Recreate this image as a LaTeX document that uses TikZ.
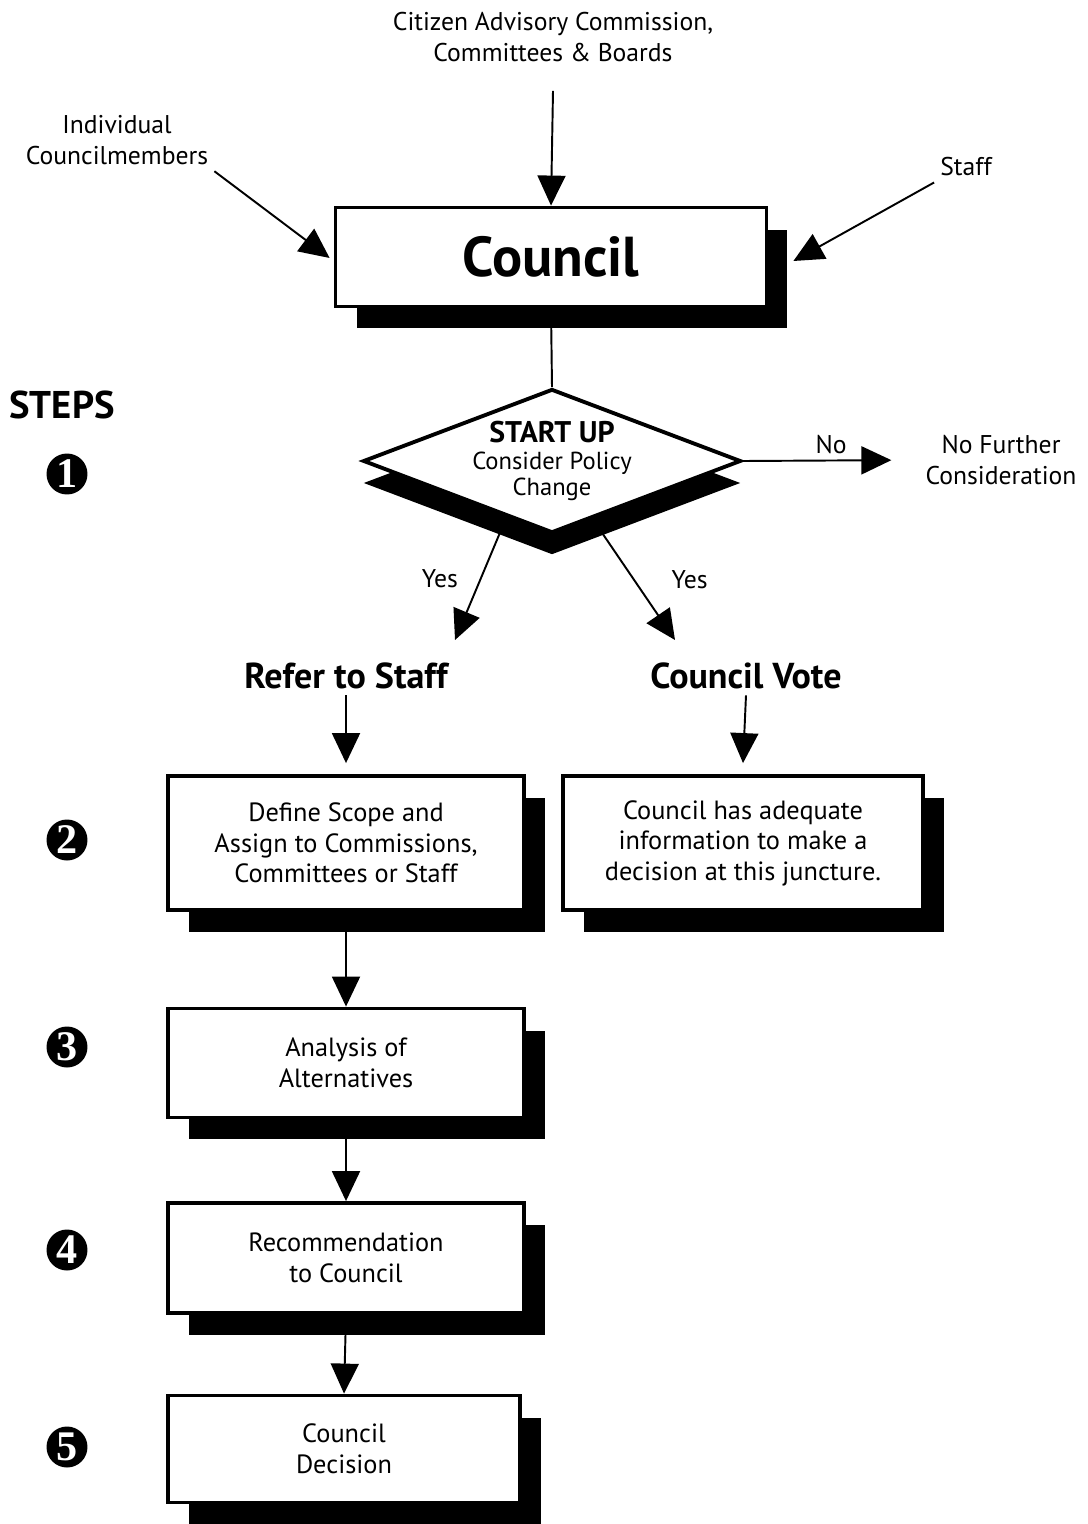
\documentclass[tikz,border=0pt]{standalone}
\usepackage{fontspec}
\setmainfont{PT Sans}
\newfontfamily\numfont{Liberation Serif}
\usetikzlibrary{arrows.meta,shapes.geometric,shadows}

\tikzset{
  arr/.style={line width=1.1pt,-{Triangle[length=0.6cm,width=0.56cm]}},
  shadebox/.style={draw,line width=2.2pt,fill=white,
    drop shadow={shadow xshift=0.42cm,shadow yshift=-0.44cm,fill=black,opacity=1}},
  stepbox/.style={shadebox,minimum width=7.12cm,align=center,font=\fontsize{15}{17.4}\selectfont},
  stepnum/.style={circle,fill=black,text=white,minimum size=0.82cm,inner sep=0pt,
    font=\numfont\bfseries\fontsize{24}{24}\selectfont},
  lbl/.style={align=center,font=\fontsize{14.6}{18}\selectfont},
  heading/.style={font=\bfseries\fontsize{20.5}{20.5}\selectfont}
}

\begin{document}
\begin{tikzpicture}[x=0.02cm,y=-0.02cm]
  \useasboundingbox (0,0) rectangle (1088,1524);

  % where proposals come from
  \node[lbl] (citizen) at (553,37) {Citizen Advisory Commission,\\Committees \& Boards};
  \node[lbl] (indiv) at (117,140) {Individual\\Councilmembers};
  \node[lbl] (staff) at (966,167) {Staff};
  \node[shadebox,minimum width=8.62cm,minimum height=1.98cm,
    font=\bfseries\fontsize{32}{32}\selectfont] (council) at (551,257) {Council};

  \draw[arr] ([yshift=-0.45cm]citizen.south) -- (council.north);
  \draw[arr,shorten >=0.1cm] (indiv.south east) -- ([yshift=-0.08cm]council.west);
  \draw[arr] (staff.south west) -- ([xshift=0.5cm,yshift=-0.08cm]council.east);

  % start up
  \node[draw,diamond,aspect=2.7,inner sep=0pt,minimum width=7.56cm,minimum height=2.88cm,
    line width=2.2pt,fill=white,align=center,font=\fontsize{14}{15}\selectfont,
    drop shadow={shadow xshift=0cm,shadow yshift=-0.44cm,fill=black,opacity=1}]
    (startup) at (552,461) {{\bfseries\fontsize{17}{17}\selectfont START UP}\\Consider Policy\\Change};
  \draw[line width=1.1pt] (council.south) -- (startup.north);

  \node[lbl] (nofurther) at (1001,460) {No Further\\Consideration};
  \draw[arr,shorten >=0.56cm] (startup.east) -- node[lbl,above] {No} (nofurther.west);

  \coordinate (yesL) at (455,640);
  \coordinate (yesR) at (675,640);
  \draw[arr] (startup.231) -- node[lbl,left=0.32cm] {Yes} (yesL);
  \draw[arr] (startup.305) -- node[lbl,right=0.62cm] {Yes} (yesR);

  \node[heading] (refer) at (346,676) {Refer to Staff};
  \node[heading] (vote) at (746,676) {Council Vote};

  % steps
  \node[stepbox,minimum height=2.68cm] (scope) at (346,843)
    {Define Scope and\\Assign to Commissions,\\Committees or Staff};
  \node[stepbox,minimum width=7.2cm,minimum height=2.68cm] (info) at (743,843)
    {Council has adequate\\information to make a\\decision at this juncture.};
  \node[stepbox,minimum height=2.18cm] (analysis) at (346,1063) {Analysis of\\Alternatives};
  \node[stepbox,minimum height=2.2cm] (recommend) at (346,1258) {Recommendation\\to Council};
  \node[stepbox,minimum width=7.04cm,minimum height=2.14cm] (decision) at (344,1449)
    {Council\\Decision};

  \draw[arr] (refer.south) -- ([yshift=0.22cm]scope.north);
  \draw[arr] (vote.south) -- ([yshift=0.22cm]info.north);
  \draw[arr] (scope.south) -- (analysis.north);
  \draw[arr] (analysis.south) -- (recommend.north);
  \draw[arr] (recommend.south) -- (decision.north);

  \node[font=\bfseries\fontsize{22}{22}\selectfont] (steps) at (62,405) {STEPS};
  \foreach \n/\y in {1/474,2/840,3/1047,4/1250,5/1447}
    \node[stepnum] (num\n) at (67,\y) {\n};
\end{tikzpicture}
\end{document}
